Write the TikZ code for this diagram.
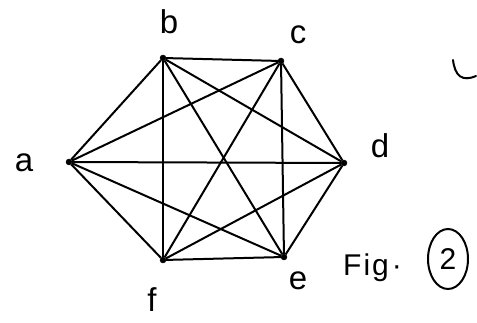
\documentclass[tikz,border=0pt]{standalone}
\usepackage{fontspec}
\setmainfont{Liberation Sans}
\usetikzlibrary{shapes.geometric}
\begin{document}
\begin{tikzpicture}[x=1pt,y=-1pt,
  vtx/.style={circle,fill=black,draw=black,inner sep=0pt,minimum size=6pt},
  edge/.style={draw=black,line width=2pt},
  lbl/.style={font=\fontsize{33}{33}\selectfont,inner sep=0pt},
  figlbl/.style={font=\fontsize{30}{30}\selectfont,inner sep=0pt}]
\useasboundingbox (0,0) rectangle (477,323);
\node[vtx] (a) at (69,162) {};
\node[vtx] (b) at (163,58) {};
\node[vtx] (c) at (281,61) {};
\node[vtx] (d) at (344,163) {};
\node[vtx] (e) at (284,257) {};
\node[vtx] (f) at (163,260) {};
\foreach \u/\v in {a/b,a/c,a/d,a/e,a/f,b/c,b/d,b/e,b/f,c/d,c/e,c/f,d/e,d/f,e/f}
  \path[edge] (\u) -- (\v);
\node[lbl] (la) at (24,163) {a};
\node[lbl] (lb) at (169,22) {b};
\node[lbl] (lc) at (298,35) {c};
\node[lbl] (ld) at (380,146) {d};
\node[lbl] (le) at (298,281) {e};
\node[lbl] (lf) at (152,300) {f};
\node[figlbl,anchor=base west] (fig) at (343,276) {F\kern2pt i\kern2pt g\kern3pt·};
\node[figlbl,draw=black,line width=2pt,ellipse,inner sep=1pt,minimum width=40pt,minimum height=60pt] (two) at (448,259) {2};
\draw[line width=2pt,line cap=round] (453,60) .. controls (455,76) and (462,82) .. (476,76);
\end{tikzpicture}
\end{document}
